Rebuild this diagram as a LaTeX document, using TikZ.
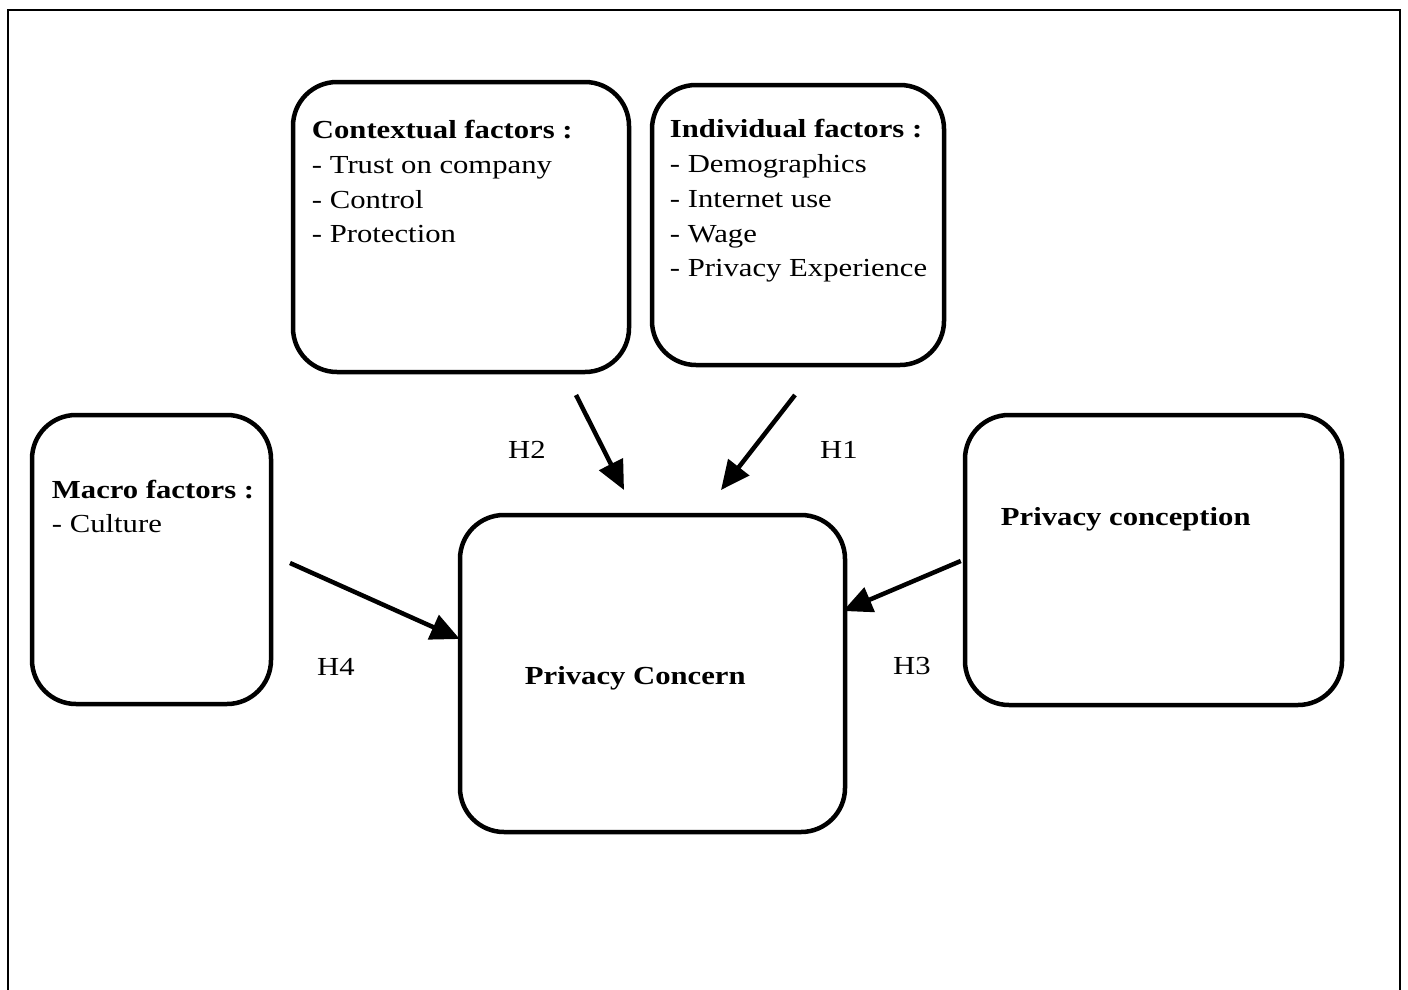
\documentclass[tikz,border=0pt]{standalone}
\usepackage{fontspec}
\setmainfont[FakeStretch=1.18]{Liberation Serif}
\usetikzlibrary{calc,arrows.meta}

\tikzset{
  factorbox/.style={draw,line width=4.5pt,rounded corners=44pt,inner sep=0pt},
  factortxt/.style={anchor=base west,inner sep=0pt,align=left,font=\fontsize{26}{34.7}\selectfont},
  hyp/.style={anchor=base west,inner sep=0pt,font=\fontsize{26}{34.7}\selectfont},
  arr/.style={line width=4.5pt,-{Triangle[length=29pt,width=26pt]}}
}

\begin{document}
\begin{tikzpicture}[x=1pt,y=-1pt]
\useasboundingbox (0,0) rectangle (1408,990);
\draw[line width=2pt] (7.5,1000) -- (7.5,10) -- (1400,10) -- (1400,1000);

\node[factorbox,minimum width=336pt,minimum height=290pt] (ctx) at (461,227) {};
\node[factorbox,minimum width=292pt,minimum height=280pt] (ind) at (798,225) {};
\node[factorbox,minimum width=239pt,minimum height=289pt] (mac) at (151.5,559.5) {};
\node[factorbox,minimum width=385pt,minimum height=317pt] (pc) at (652.5,673.5) {};
\node[factorbox,minimum width=377pt,minimum height=290pt] (pco) at (1153.5,560) {};

\node[factortxt] (ctxt) at ($(ctx.north west)+(21,163)$) {\textbf{Contextual factors :}\\- Trust on company\\- Control\\- Protection};
\node[factortxt] (indt) at ($(ind.north west)+(20,194)$) {\textbf{Individual factors :}\\- Demographics\\- Internet use\\- Wage\\- Privacy Experience};
\node[factortxt] (mact) at ($(mac.north west)+(22,120)$) {\textbf{Macro factors :}\\- Culture};
\node[factortxt] (pcot) at ($(pco.north west)+(38,113)$) {\textbf{Privacy conception}};
\node[factortxt] (pct) at ($(pc.north west)+(67,172)$) {\textbf{Privacy Concern}};

\coordinate (h2s) at (576,395);
\coordinate (h2e) at (624,490);
\coordinate (h1s) at (795,395);
\coordinate (h1e) at (721,490);
\coordinate (h4s) at (290,563);
\coordinate (h4e) at ($(pc.west |- 0,639)+(2,0)$);
\coordinate (h3s) at ($(pco.west |- 0,561)+(-2,0)$);
\coordinate (h3e) at (843,611);

\draw[arr] (h2s) -- (h2e);
\draw[arr] (h1s) -- (h1e);
\draw[arr] (h4s) -- (h4e);
\draw[arr] (h3s) -- (h3e);

\node[hyp] (h2) at (508,458) {H2};
\node[hyp] (h1) at (820,458) {H1};
\node[hyp] (h4) at (317,675) {H4};
\node[hyp] (h3) at (893,674) {H3};

\end{tikzpicture}
\end{document}
